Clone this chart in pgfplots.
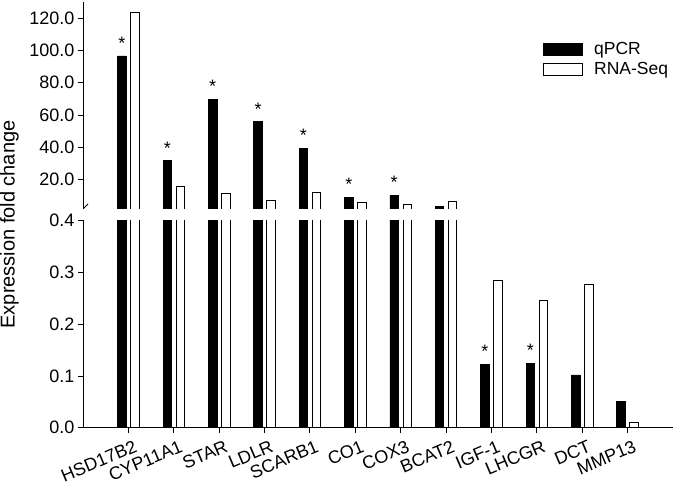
\documentclass[border=0pt]{standalone}
\usepackage{fontspec}
\setmainfont{Liberation Sans}
\usepackage{pgfplots}
\usepackage{pgfplotstable}
\pgfplotsset{compat=1.18}

% fold change per gene: qPCR and RNA-Seq
\pgfplotstableread{
x qpcr rna
0 96.6 123.7
1 31.7 15.6
2 69.9 11.5
3 55.9 7.4
4 39.4 11.9
5 9.1 6.0
6 10.3 4.7
7 3.25 6.8
8 0.123 0.284
9 0.125 0.246
10 0.102 0.277
11 0.050 0.011
}\folddata

% significant qPCR values (asterisks)
\pgfplotstableread{
x y
0 96.6
1 31.7
2 69.9
3 55.9
4 39.4
5 9.1
6 10.3
8 0.123
9 0.125
}\stardata

\pgfplotsset{
  brk/.style={
    scale only axis, width=590pt, height=207pt,
    xmin=-1, xmax=12,
    tick align=outside, major tick length=5pt,
    tick style={black, line width=0.9pt},
    axis line style={black, line width=1pt},
    ticklabel style={font=\fontsize{18}{20}\selectfont},
    /pgf/number format/assume math mode=true,
    /pgf/number format/fixed,
    /pgf/number format/fixed zerofill,
    /pgf/number format/precision=1,
  },
  bars/.style={ybar, bar width=8.5pt, line width=0.8pt, draw=black,
    legend image code/.code={\draw[##1, line width=0.8pt] (0pt,-6pt) rectangle (39pt,6pt);}},
  stars/.style={ybar, bar width=8.5pt, bar shift=-6.5pt, draw=none, fill=none, forget plot,
    nodes near coords={*},
    every node near coord/.append style={font=\fontsize{18}{20}\selectfont, xshift=-6.5pt, yshift=3pt}},
}

\begin{document}
\begin{tikzpicture}
\useasboundingbox (0pt,0pt) rectangle (676pt,481pt);

% lower segment 0 - 0.4
\begin{axis}[brk, at={(83pt,53.3pt)}, anchor=south west,
  ymin=0, ymax=0.4, ytick={0,0.1,0.2,0.3,0.4},
  axis x line*=bottom, axis y line*=left,
  xtick={0,...,11},
  xticklabels={HSD17B2,CYP11A1,STAR,LDLR,SCARB1,CO1,COX3,BCAT2,IGF-1,LHCGR,DCT,MMP13},
  x tick label style={rotate=23, anchor=north east, inner sep=1pt, xshift=3pt, yshift=-7pt},
  restrict y to domain*=0:0.5]
\addplot[bars, bar shift=-6.5pt, fill=black] table[x=x, y=qpcr] {\folddata};
\addplot[bars, bar shift=6.5pt, fill=white] table[x=x, y=rna] {\folddata};
\addplot[stars] table[x=x, y=y] {\stardata};
\draw[black, line width=0.9pt] ([shift={(-5pt,-5pt)}]rel axis cs:0,1) -- ([shift={(5pt,5pt)}]rel axis cs:0,1);
\end{axis}

% upper segment
\begin{axis}[brk, at={(83pt,272pt)}, anchor=south west,
  ymin=1.8, ymax=130, ytick={20,40,...,120},
  axis x line=none, axis y line*=left, xtick=\empty,
  restrict y to domain=1:200,
  legend style={draw=none, fill=none, inner sep=0pt,
    at={(axis description cs:0.78,0.815)}, anchor=north west,
    font=\fontsize{17.5}{19}\selectfont, row sep=2pt,
    nodes={inner sep=2pt},
    /tikz/every odd column/.append style={column sep=9pt}},
  legend cell align=left]
\addplot[bars, bar shift=-6.5pt, fill=black] table[x=x, y=qpcr] {\folddata};
\addlegendentry{qPCR}
\addplot[bars, bar shift=6.5pt, fill=white] table[x=x, y=rna] {\folddata};
\addlegendentry{RNA-Seq}
\addplot[stars] table[x=x, y=y] {\stardata};
\draw[black, line width=0.9pt] ([shift={(-5pt,-5pt)}]rel axis cs:0,0) -- ([shift={(5pt,5pt)}]rel axis cs:0,0);
\end{axis}

\node[rotate=90, font=\fontsize{20}{22}\selectfont] at (9.5pt,256.5pt) {Expression fold change};
\end{tikzpicture}
\end{document}
